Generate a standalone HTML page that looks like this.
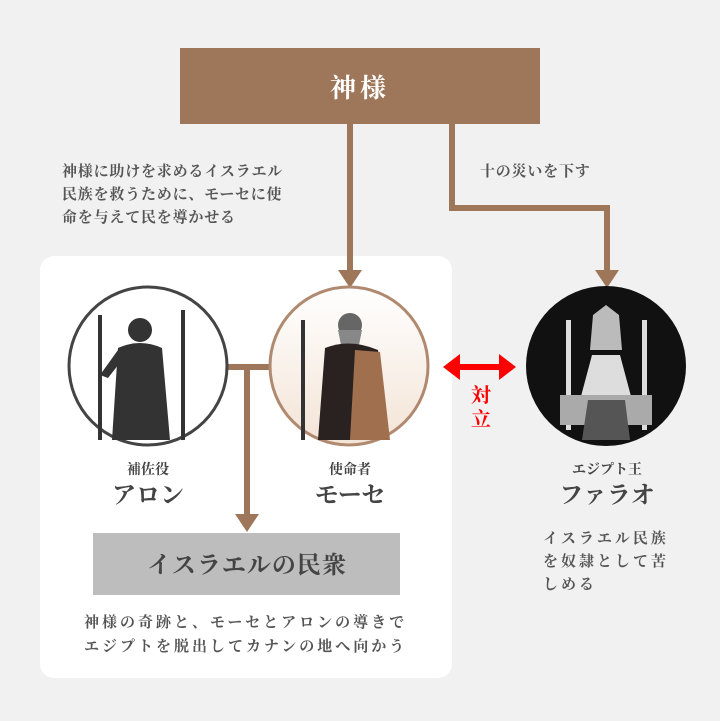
<!DOCTYPE html>
<html><head><meta charset="utf-8"><style>
body{margin:0;background:#f1f1f1;}
svg{display:block}
text{font-family:"Liberation Serif","Noto Serif CJK SC",serif;font-weight:bold}
</style></head><body>
<svg width="720" height="721" viewBox="0 0 720 721" xmlns="http://www.w3.org/2000/svg">
<defs><linearGradient id="mg" x1="0" y1="0" x2="0" y2="1"><stop offset="0" stop-color="#fff"/><stop offset="1" stop-color="#f3e4d6"/></linearGradient></defs>
<rect width="720" height="721" fill="#f1f1f1"/>
<rect x="40" y="256" width="412" height="422" rx="14" fill="#fff"/>
<rect x="180" y="48" width="360" height="76" fill="#9e7659"/>
<text x="360" y="97" font-size="26" fill="#fff" text-anchor="middle" letter-spacing="4">神様</text>
<g stroke="#9e7659" stroke-width="6" fill="none">
<line x1="350" y1="124" x2="350" y2="272"/>
<polyline points="452,124 452,208 607,208 607,272"/>
<polyline points="228,367 272,367"/>
<line x1="247" y1="367" x2="247" y2="516"/>
</g>
<g fill="#9e7659">
<polygon points="338,270 362,270 350,288"/>
<polygon points="595,270 619,270 607,288"/>
<polygon points="235,514 259,514 247,532"/>
</g>
<g font-size="15" fill="#555" letter-spacing="0.8">
<text x="62" y="176">神様に助けを求めるイスラエル</text>
<text x="62" y="199">民族を救うために、モーセに使</text>
<text x="62" y="222">命を与えて民を導かせる</text>
<text x="480" y="176">十の災いを下す</text>
</g>
<circle cx="148" cy="366" r="79" fill="#fff" stroke="#444" stroke-width="3"/>
<g fill="#333">
<rect x="98" y="315" width="4" height="125"/><rect x="181" y="310" width="4" height="130"/>
<circle cx="140" cy="330" r="12"/>
<path d="M118 348 Q140 338 162 348 L170 440 L112 440 Z"/>
<path d="M118 350 L100 375 L108 378 L122 360 Z"/>
</g>
<circle cx="349" cy="366" r="79" fill="url(#mg)" stroke="#b08a70" stroke-width="3"/>
<g>
<rect x="301" y="320" width="4" height="120" fill="#333"/>
<circle cx="350" cy="325" r="12" fill="#666"/>
<path d="M338 330 L362 330 L356 360 L344 360 Z" fill="#888"/>
<path d="M325 348 Q350 338 378 350 L388 440 L318 440 Z" fill="#2a2220"/>
<path d="M355 350 L380 352 L390 440 L350 440 Z" fill="#a0704e"/>
</g>
<circle cx="606" cy="366" r="80" fill="#111"/>
<g fill="#ddd">
<rect x="566" y="320" width="5" height="110"/><rect x="642" y="320" width="5" height="110"/>
<path d="M593 315 L606 305 L619 315 L622 350 L590 350 Z" fill="#bbb"/>
<path d="M592 355 L620 355 L632 400 L580 400 Z"/>
<rect x="560" y="395" width="92" height="30" fill="#aaa"/>
<path d="M588 400 L625 400 L630 440 L582 440 Z" fill="#555"/>
</g>
<g fill="#f00">
<rect x="455" y="364" width="48" height="6"/>
<polygon points="443,367 460,354 460,380"/>
<polygon points="516,367 499,354 499,380"/>
</g>
<text x="481" y="402" font-size="20" fill="#f00" text-anchor="middle">対</text>
<text x="481" y="426" font-size="20" fill="#f00" text-anchor="middle">立</text>
<g fill="#444" text-anchor="middle">
<text x="148" y="474" font-size="14">補佐役</text>
<text x="148" y="503" font-size="24">アロン</text>
<text x="350" y="474" font-size="14">使命者</text>
<text x="350" y="503" font-size="24">モーセ</text>
<text x="607" y="474" font-size="14">エジプト王</text>
<text x="607" y="503" font-size="24">ファラオ</text>
</g>
<rect x="93" y="533" width="307" height="62" fill="#bdbdbd"/>
<text x="247" y="573" font-size="24" fill="#444" text-anchor="middle" letter-spacing="1">イスラエルの民衆</text>
<g font-size="15" fill="#555" letter-spacing="3">
<text x="84" y="627">神様の奇跡と、モーセとアロンの導きで</text>
<text x="84" y="651">エジプトを脱出してカナンの地へ向かう</text>
<text x="543" y="543">イスラエル民族</text>
<text x="543" y="566">を奴隷として苦</text>
<text x="543" y="589">しめる</text>
</g>
</svg>
</body></html>
